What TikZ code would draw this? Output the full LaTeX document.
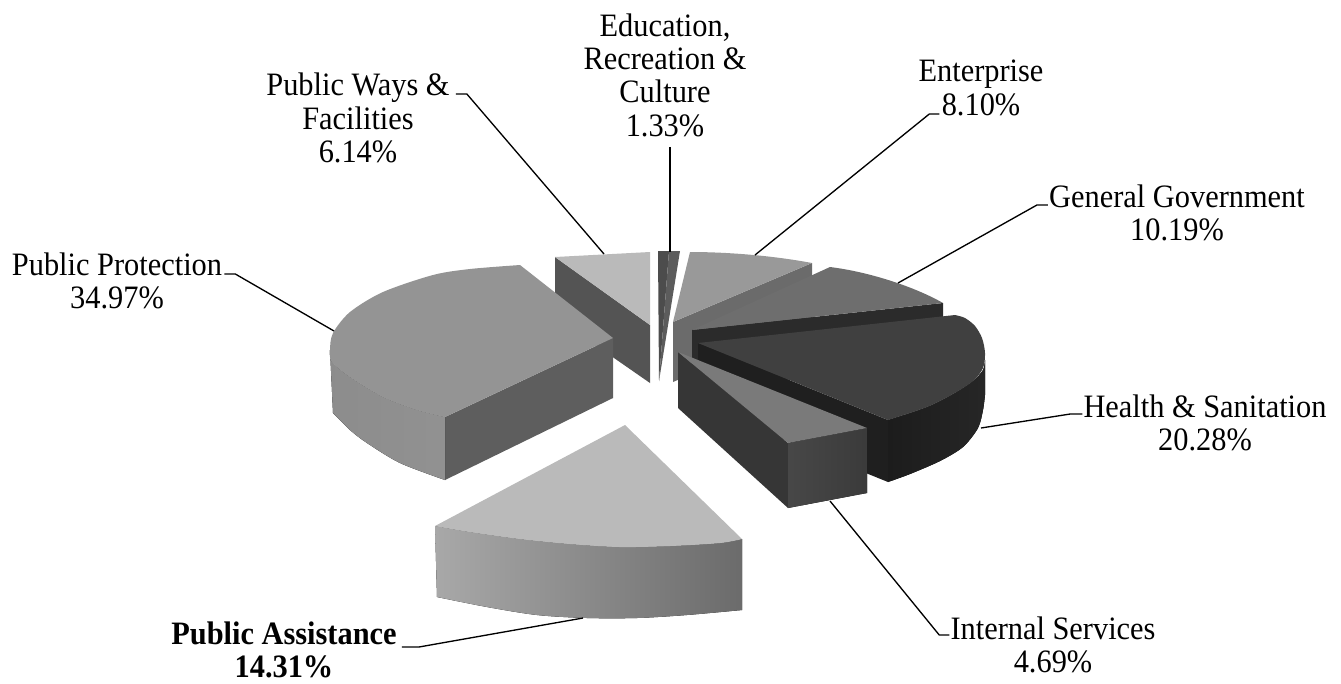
\documentclass[tikz,border=0pt]{standalone}
\usepackage{fontspec}
\setmainfont{Liberation Serif}[FakeStretch=0.93]
\usepackage{tikz}

\begin{document}
\begin{tikzpicture}[x=0.75pt,y=-0.75pt,
  lbl/.style={align=center,inner sep=0pt,font=\fontsize{24.5}{25}\selectfont},
  lblbold/.style={lbl,font=\fontsize{24.5}{25}\selectfont\bfseries},
  leader/.style={line width=1pt,black}]
  \useasboundingbox (0,0) rectangle (1341,683);

  \fill[black!67] (555,257) -- (650,325) -- (650,383) -- (555,317) -- cycle;
  \fill[black!27] (555,257) -- (650,252) -- (650,325) -- cycle;

  \fill[black!70] (658,251) -- (669,251) -- (659,381) -- cycle;
  \fill[black!64] (669,251) -- (680,251) -- (659,381) -- cycle;

  \fill[black!58] (673,322) -- (812,263) -- (812,323) -- (673,382) -- cycle;
  \fill[black!40] (673,322) -- (690,252) .. controls (730,252) and (775,256) .. (812,263) -- cycle;

  \fill[black!83] (692,330) -- (943,303) -- (943,363) -- (692,390) -- cycle;
  \fill[black!57] (692,330) -- (830,267) .. controls (870,272) and (915,287) .. (943,303) -- cycle;

  \fill[black!88] (698,343) -- (888,420) -- (888,482) -- (698,405) -- cycle;
  \fill[left color=black!89,right color=black!85] plot[smooth] coordinates {(985,360) (983,370) (973,381) (953,394) (927,407) (888,420)}
    -- (888,482) -- plot[smooth] coordinates {(888,482) (910,474) (940,461) (963,447) (978,428) (983,410) (985,395)} -- cycle;
  \fill[black!75] (698,343) -- (955,315) -- plot[smooth] coordinates {(955,315) (965,318) (975,326) (982,338) (985,353) (983,368) (973,381) (953,394) (927,407) (888,420)} -- cycle;

  \fill[black!79] (678,352) -- (788,443) -- (788,508) -- (678,408) -- cycle;
  \fill[left color=black!72,right color=black!77] (788,443) -- (867,428) -- (867,493) -- (788,508) -- cycle;
  \fill[black!52] (678,352) -- (867,428) -- (788,443) -- cycle;

  \fill[black!63] (445,417) -- (613,338) -- (613,398) -- (445,480) -- cycle;
  \fill[left color=black!45,right color=black!43] plot[smooth] coordinates {(330,350) (332,362) (350,377) (383,397) (417,410) (445,417)}
    -- (445,480) -- plot[smooth] coordinates {(445,480) (400,463) (367,443) (350,430) (333,413)} -- cycle;
  \fill[black!42] (613,338) -- (520,265) -- plot[smooth] coordinates {(520,265) (470,269) (433,275) (383,292) (350,312) (333,333) (330,350) (332,362) (350,377) (383,397) (417,410) (445,417)} -- cycle;

  \fill[left color=black!34,right color=black!58] plot[smooth] coordinates {(435,526) (470,532) (520,539) (570,544) (620,547) (670,546) (720,543) (742,539)}
    -- (742,610) -- plot[smooth] coordinates {(742,610) (687,615) (637,618) (587,618) (537,615) (487,607) (437,597)} -- cycle;
  \fill[black!27] (625,425) -- (435,526) -- plot[smooth] coordinates {(435,526) (470,532) (520,539) (570,544) (620,547) (670,546) (720,543) (742,539)} -- cycle;

  \node[lbl] (pw) at (358,118) {Public Ways \&\\Facilities\\6.14\%};
  \node[lbl] (ed) at (665,75) {Education,\\Recreation \&\\Culture\\1.33\%};
  \node[lbl] (en) at (981,88) {Enterprise\\8.10\%};
  \node[lbl] (gg) at (1177,213) {General Government\\10.19\%};
  \node[lbl] (hs) at (1205,423) {Health \& Sanitation\\20.28\%};
  \node[lbl] (is) at (1053,645) {Internal Services\\4.69\%};
  \node[lblbold] (pa) at (284,650) {Public Assistance\\14.31\%};
  \node[lbl] (pp) at (117,281) {Public Protection\\34.97\%};

  \coordinate (pw-tip) at (604,254);
  \coordinate (ed-tip) at (670,252);
  \coordinate (en-tip) at (755,255);
  \coordinate (gg-tip) at (898,283);
  \coordinate (hs-tip) at (981,428);
  \coordinate (is-tip) at (830,501);
  \coordinate (pa-tip) at (583,618);
  \coordinate (pp-tip) at (334,331);

  \draw[leader] ([shift={(6,-24)}]pw.east) -- ++(11,0) -- (pw-tip);
  \draw[leader] (ed.south -| ed-tip) ++(0,10) -- (ed-tip);
  \draw[leader] ([shift={(21,26)}]en.west) -- ++(-10,0) -- (en-tip);
  \draw[leader] ([shift={(-1,-8)}]gg.west) -- ++(-11,0) -- (gg-tip);
  \draw[leader] ([shift={(-1,-9)}]hs.west) -- ++(-12,0) -- (hs-tip);
  \draw[leader] ([shift={(-1,-10)}]is.west) -- ++(-10,0) -- (is-tip);
  \draw[leader] ([shift={(5,-3)}]pa.east) -- ++(17,0) -- (pa-tip);
  \draw[leader] ([shift={(2,-7)}]pp.east) -- ++(11,0) -- (pp-tip);
\end{tikzpicture}
\end{document}
